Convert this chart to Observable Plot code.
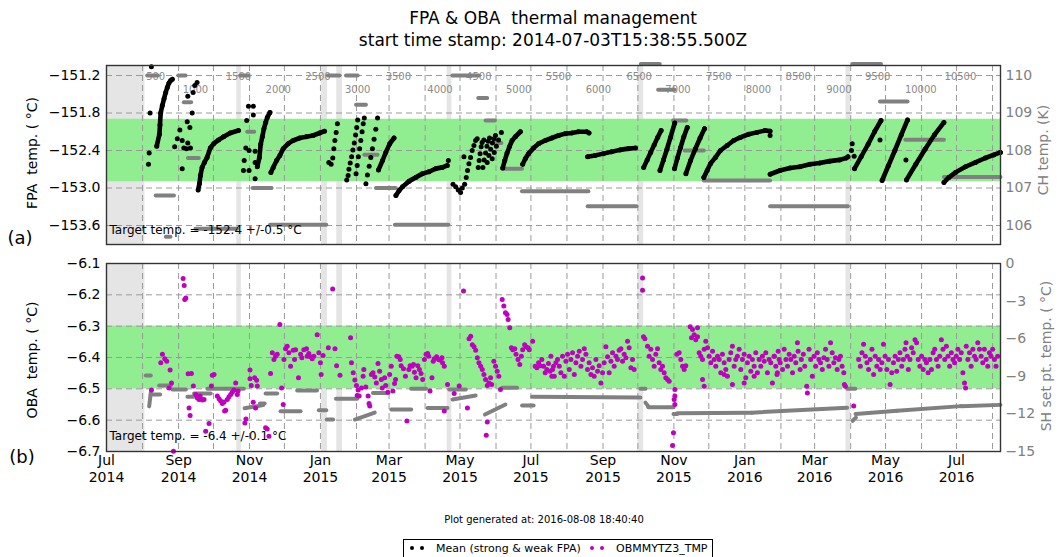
<!DOCTYPE html>
<html><head><meta charset="utf-8">
<script src="https://cdn.jsdelivr.net/npm/d3@7"></script>
<script src="https://cdn.jsdelivr.net/npm/@observablehq/plot@0.6"></script>
<style>
body{margin:0;background:#fff;font-family:"DejaVu Sans",sans-serif}
#wrap{position:relative;width:1064px;height:557px;overflow:hidden;background:#fff}
#wrap svg{position:absolute;left:0;max-width:none}
.t{position:absolute;white-space:pre;color:#000;line-height:1}
</style></head>
<body><div id="wrap"></div>
<script>
// ---------- DATA ----------
// time given as days since 2014-07-01 (UTC)
const shadeStart = ["2014-07-01","2014-10-21","2015-01-02","2015-01-15","2015-04-20","2015-10-01","2016-03-28"];
const shadeEnd   = ["2014-08-03","2014-10-25","2015-01-07","2015-01-20","2015-04-24","2015-10-06","2016-04-01"];

const sampleDays   = [42.3,76.5,113.5,147.7,181.8,216,251,286.8,320.2,354.5,388.7,423,458.1,491.5,526.5,560.7,594.9,629.9,663.2,700.3,734.4];
const sampleLabels = ["500","1000","1500","2000","2500","3000","3500","4000","4500","5000","5500","6000","6500","7000","7500","8000","8500","9000","9500","10000","10500"];

const fpaTicks = [-151.2,-151.8,-152.4,-153.0,-153.6];
const chTicks  = [106,107,108,109,110];
const obaTicks = [-6.1,-6.2,-6.3,-6.4,-6.5,-6.6,-6.7];
const shTicks  = [0,-3,-6,-9,-12,-15];

// FPA mean temperature: isolated samples [day, degC]
const fpaScatter = [
 [38.6,-151.06],[37.5,-151.80],[36.7,-152.44],[36.1,-152.62],
 [58.6,-152.34],[60.9,-152.21],[63.1,-152.07],[65.1,-152.24],[66.5,-152.36],[65.1,-152.69],[68.8,-152.37],[69.9,-152.28],
 [69.4,-151.94],[71.7,-152.03],[73.7,-151.80],[69.9,-151.53],[74.5,-151.47],[75.9,-151.36],[77.9,-151.31],[72.2,-152.36],
 [117.8,-152.72],[118.4,-152.56],[119.8,-152.36],[120.6,-151.92],[122.1,-151.69],[126.3,-151.69],[126.3,-151.83],
 [122.6,-152.40],[122.6,-152.72],[127.8,-152.41],[127.8,-152.59],[127.8,-152.85],
 [191.2,-152.59],[193.2,-152.62],[194.6,-152.52],[195.5,-152.37],[196.4,-152.24],[197.5,-152.11],[198.6,-151.97],
 [206.6,-152.87],[207.8,-152.80],[208.5,-152.70],[209.6,-152.60],[210.8,-152.50],[211.9,-152.39],[213.1,-152.28],[214.2,-152.15],[215.2,-152.03],[216.0,-151.91],
 [214.6,-152.77],[215.6,-152.64],[216.6,-152.50],[217.7,-152.37],[218.7,-152.24],[219.8,-152.10],[220.8,-151.97],[221.7,-151.88],
 [223.1,-152.93],[224.4,-152.79],[225.9,-152.65],[227.3,-152.51],[228.7,-152.37],[230.1,-152.22],[231.6,-152.06],[233.1,-151.88],
 [294.0,-152.56],
 [298.0,-152.94],[300.3,-152.98],[302.5,-153.03],[304.5,-153.07],[306.0,-153.00],[308.0,-152.94],[307.4,-152.50],[309.4,-152.83],
 [310.5,-152.72],[311.7,-152.61],[313.1,-152.51],[314.5,-152.40],[316.0,-152.32],[317.4,-152.24],[318.8,-152.21],
 [319.7,-152.67],[320.5,-152.56],[321.3,-152.45],[322.2,-152.34],[323.0,-152.27],[324.5,-152.23],
 [323.7,-152.67],[324.8,-152.55],[326.0,-152.44],[327.2,-152.33],[328.3,-152.25],[329.4,-152.20],
 [327.4,-152.59],[328.9,-152.48],[330.4,-152.38],[331.9,-152.28],[333.3,-152.21],[334.5,-152.16],
 [331.7,-152.53],[333.5,-152.43],[335.3,-152.33],[337.2,-152.23],[339.6,-152.11],
 [570.7,-152.16],
 [641.3,-152.29],[640.7,-152.40],[643.0,-152.49],[665.2,-152.23],[687.5,-152.55]
];
// FPA mean temperature: densely sampled runs [day, degC]
const fpaRuns = [
 [[43.2,-152.33],[45.5,-152.14],[46.0,-151.99],[46.6,-151.80],[48.0,-151.68],[49.5,-151.57],[50.9,-151.47],[52.3,-151.39],[53.7,-151.32],[55.2,-151.28],[56.6,-151.26]],
 [[78.8,-153.03],[79.9,-152.93],[80.8,-152.80],[82.2,-152.67],[84.2,-152.59],[86.5,-152.51],[89.3,-152.36],[92.2,-152.29],[96.4,-152.23],[100.7,-152.18],[106.4,-152.12],[113.5,-152.08]],
 [[129.7,-152.66],[131.5,-152.51],[132.6,-152.30],[134.0,-152.18],[135.4,-152.05],[136.9,-151.95],[138.3,-151.87],[140.6,-151.79]],
 [[141.4,-152.75],[143.4,-152.67],[146.3,-152.56],[149.1,-152.48],[152.0,-152.37],[156.2,-152.29],[160.5,-152.24],[166.2,-152.20],[171.9,-152.18],[177.6,-152.16],[183.3,-152.12],[187.5,-152.09]],
 [[233.9,-152.71],[237.4,-152.56],[240.2,-152.43],[243.6,-152.29],[247.3,-152.20]],
 [[248.9,-153.12],[251.7,-153.04],[254.6,-152.98],[260.3,-152.89],[266.0,-152.83],[271.7,-152.77],[277.4,-152.74],[283.1,-152.69],[288.8,-152.67],[293.1,-152.64]],
 [[340.8,-152.68],[342.5,-152.56],[344.5,-152.44],[346.5,-152.34],[348.8,-152.24],[351.6,-152.18],[355.9,-152.10]],
 [[357.9,-152.62],[360.2,-152.53],[363.0,-152.45],[367.3,-152.36],[371.6,-152.29],[377.3,-152.24],[383.0,-152.20],[388.7,-152.16],[394.4,-152.13],[400.1,-152.12],[405.9,-152.10],[413.0,-152.10],[415.0,-152.12]],
 [[413.8,-152.50],[420.1,-152.48],[427.3,-152.45],[434.4,-152.42],[441.5,-152.39],[448.7,-152.37],[455.0,-152.36]],
 [[462.0,-152.67],[465.0,-152.55],[468.0,-152.43],[471.0,-152.31],[474.0,-152.19],[477.0,-152.08]],
 [[476.0,-152.72],[479.0,-152.55],[482.0,-152.38],[485.0,-152.19],[488.7,-151.96]],
 [[488.5,-152.69],[491.0,-152.52],[493.7,-152.35],[496.5,-152.18],[499.5,-152.03]],
 [[498.3,-152.77],[502.3,-152.56],[506.5,-152.37],[510.5,-152.20],[514.3,-152.05]],
 [[513.7,-152.83],[516.6,-152.72],[519.4,-152.61],[523.7,-152.51],[528.0,-152.40],[533.7,-152.32],[539.4,-152.24],[545.1,-152.19],[552.2,-152.14],[559.3,-152.11],[566.4,-152.08],[570.7,-152.09]],
 [[570.7,-152.78],[579.2,-152.72],[587.8,-152.68],[596.3,-152.66],[604.9,-152.62],[613.4,-152.60],[621.9,-152.57],[630.5,-152.55],[636.2,-152.52],[637.6,-152.50]],
 [[643.3,-152.69],[649.0,-152.50],[655.0,-152.30],[660.5,-152.10],[666.1,-151.92]],
 [[667.0,-152.88],[672.5,-152.64],[678.0,-152.40],[683.5,-152.15],[688.9,-151.91]],
 [[688.0,-152.87],[696.0,-152.62],[704.0,-152.38],[712.0,-152.15],[720.2,-151.95]],
 [[720.2,-152.91],[724.5,-152.83],[730.2,-152.75],[738.7,-152.66],[747.3,-152.59],[755.8,-152.52],[762.9,-152.47],[768.8,-152.43]]
];

// CH temperature steps (K): [startDay, endDay, K]
const chSteps = [
 [35,44,110.0],[61.7,68,110.0],[42.3,58,106.8],[51,55,105.7],[66.5,72.8,109.29],[70,79.4,107.8],[76.5,112.1,105.91],
 [115,122,110.0],[121,127,108.5],[125.8,142.0,107.0],[140.6,189,106.02],[190.4,200.4,110.0],[206,216,110.0],
 [214.6,223.1,109.22],[221.7,233.1,107.89],[231.7,248.7,107.0],[248,294,106.02],[297.4,320.2,110.0],[319.7,327.4,109.4],
 [326,334,108.8],[334.5,339.6,108.2],[340.2,357.3,107.51],[357.3,414.4,106.91],[413.8,455.8,106.51],[459.5,475.8,110.31],
 [474.4,488.6,109.62],[487.2,498.6,108.8],[497.2,513.7,108.0],[513.7,570.7,107.2],[570.7,637.6,106.51],[641.3,666.1,110.31],
 [665.2,688.9,109.31],[686.9,720.2,108.29],[720.2,768.8,107.29]
];

// SH set point (degC): [startDay, endDay, startValue, endValue]
const shSteps = [
 [33.8,38.1,-8.93,-8.93],[36.7,38.1,-11.4,-10.3],[38.1,46.1,-10.45,-10.45],[45.3,55.3,-9.73,-9.73],[56.7,68.2,-10.05,-10.05],
 [69.6,75.3,-10.64,-10.64],[75.3,89.6,-10.37,-10.37],[86.7,118.2,-10.0,-10.0],[118.8,134.8,-11.55,-11.3],[132,136,-11.17,-11.17],
 [136.8,146.8,-10.37,-10.37],[149.7,166.9,-11.78,-11.78],[164,181,-10.13,-10.13],[182.6,189,-11.7,-11.7],[189.4,194.9,-12.45,-12.45],
 [197.3,215.6,-10.8,-10.8],[213.6,230.7,-12.45,-11.9],[229.2,242,-10.33,-10.33],[244.9,262,-11.65,-11.65],[262,274.8,-10.0,-10.0],
 [276.2,293.3,-11.52,-11.52],[294.7,309,-10.05,-10.05],[297.6,317.5,-10.85,-10.53],[325.5,343.1,-12.05,-11.25],[340.3,353.1,-9.92,-9.92],
 [357.4,367.3,-11.33,-11.33],[366,459.2,-10.64,-10.7],[459.2,463.5,-10.0,-10.0],[463.5,466,-11.1,-11.4],[466,487.6,-11.47,-11.47],
 [487.6,490.8,-12.0,-12.0],[490.8,555,-11.95,-11.9],[555,637,-11.9,-11.5],[637,644,-10.0,-10.0],[641.7,644.5,-12.55,-12.3],
 [644.2,680,-12.0,-11.75],[680,735,-11.75,-11.38],[735,768.8,-11.38,-11.28]
];

// OBA temperature OBMMYTZ3_TMP [day, degC]
const obaPoints = [
 [38.7,-6.504],[48.1,-6.390],[50.1,-6.404],[46.7,-6.417],[51.8,-6.412],[54.7,-6.440],[55.9,-6.481],[53.8,-6.497],[65.9,-6.148],[66.8,-6.170],
 [68.2,-6.210],[67.3,-6.215],[70.2,-6.452],[73.0,-6.451],[74.7,-6.491],[71.0,-6.561],[71.9,-6.585],[76.7,-6.518],[78.2,-6.529],[79.6,-6.534],
 [81.0,-6.532],[82.5,-6.536],[80.5,-6.523],[83.9,-6.534],[88.2,-6.611],[85.3,-6.635],[91.0,-6.457],[92.5,-6.454],[90.2,-6.491],[95.3,-6.523],
 [96.8,-6.532],[98.2,-6.539],[99.6,-6.547],[101.1,-6.542],[102.5,-6.568],[103.9,-6.534],[105.3,-6.525],[106.8,-6.518],[108.2,-6.511],[109.6,-6.504],
 [111.1,-6.481],[112.5,-6.518],[113.1,-6.507],[101.6,-6.571],[57.6,-6.699],[123.4,-6.440],[123.4,-6.468],[124.5,-6.489],[127.4,-6.465],[129.1,-6.473],
 [129.7,-6.491],[126.2,-6.543],[128.2,-6.561],[119.0,-6.609],[119.9,-6.596],[136.8,-6.624],[138.2,-6.628],[139.7,-6.651],[141.1,-6.451],[144.0,-6.406],
 [145.4,-6.396],[146.8,-6.390],[142.6,-6.385],[149.1,-6.295],[150.6,-6.497],[152.0,-6.550],[152.6,-6.406],[154.0,-6.372],[155.4,-6.364],[156.8,-6.385],
 [158.3,-6.428],[160.6,-6.377],[162.6,-6.375],[161.7,-6.406],[165.1,-6.465],[166.9,-6.390],[168.0,-6.401],[169.7,-6.375],[172.0,-6.372],[172.6,-6.396],
 [174.0,-6.387],[175.4,-6.398],[176.9,-6.404],[178.3,-6.396],[181.2,-6.327],[182.6,-6.385],[184.0,-6.417],[184.6,-6.454],[186.3,-6.394],
 [194.5,-6.181],[190.8,-6.369],[196.5,-6.372],[209.9,-6.337],[197.9,-6.426],[200.8,-6.457],[210.7,-6.417],[212.2,-6.449],[213.6,-6.472],[215.0,-6.489],
 [216.4,-6.504],[215.6,-6.521],[217.3,-6.523],[219.3,-6.497],[220.7,-6.460],[221.3,-6.438],[223.0,-6.494],[225.0,-6.523],[225.8,-6.547],[226.4,-6.555],
 [227.8,-6.454],[229.2,-6.449],[230.7,-6.462],[232.1,-6.481],[233.5,-6.419],[234.9,-6.444],[236.4,-6.470],[237.2,-6.497],[239.2,-6.465],[240.1,-6.489],
 [242.0,-6.511],[243.5,-6.454],[244.9,-6.428],[246.3,-6.507],[247.7,-6.483],[248.6,-6.470],[249.7,-6.396],[251.4,-6.398],[252.6,-6.406],[253.4,-6.426],
 [255.4,-6.436],[257.1,-6.460],[258.3,-6.603],[260.0,-6.438],[261.1,-6.426],[262.8,-6.428],[264.0,-6.422],[264.8,-6.447],[266.2,-6.465],[267.7,-6.426],
 [269.1,-6.438],[270.5,-6.451],[271.9,-6.470],[273.4,-6.406],[274.8,-6.390],[276.2,-6.387],[277.1,-6.396],[278.2,-6.507],[279.9,-6.465],[281.0,-6.412],
 [281.9,-6.404],[283.9,-6.398],[285.6,-6.406],[286.7,-6.408],[288.5,-6.401],[289.0,-6.417],[290.5,-6.428],[290.5,-6.571],[293.3,-6.486],[299.0,-6.515],
 [303.3,-6.491],[307.0,-6.188],[310.4,-6.561],[311.8,-6.340],[313.2,-6.332],[314.6,-6.359],[316.1,-6.366],[317.5,-6.377],[318.9,-6.401],[320.3,-6.417],
 [321.8,-6.428],[323.2,-6.438],[324.6,-6.454],[326.0,-6.470],[327.5,-6.489],[328.9,-6.481],[330.3,-6.465],[331.2,-6.486],[327.5,-6.606],[326.6,-6.648],
 [333.1,-6.412],[334.6,-6.428],[336.0,-6.444],[337.4,-6.460],[338.8,-6.502],[340.3,-6.215],[341.7,-6.236],[343.1,-6.257],[344.5,-6.263],[345.4,-6.279],
 [346.8,-6.305],[348.2,-6.369],[349.4,-6.375],[351.1,-6.372],[352.2,-6.390],[353.9,-6.406],[355.4,-6.422],[356.8,-6.396],[357.9,-6.375],[359.6,-6.359],
 [360.8,-6.366],[362.5,-6.369],[363.6,-6.375],[366.5,-6.348],[368.7,-6.428],[370.2,-6.433],[371.6,-6.417],[373.0,-6.426],[374.4,-6.406],[375.9,-6.428],
 [377.3,-6.449],[378.7,-6.438],[380.1,-6.419],[381.5,-6.444],[383.0,-6.460],[384.4,-6.428],
 [382.2,-6.396],[383.6,-6.438],[385.1,-6.460],[386.5,-6.417],[387.9,-6.406],[389.4,-6.428],[390.8,-6.449],[392.2,-6.396],[393.7,-6.460],[395.1,-6.412],
 [396.5,-6.390],[398.0,-6.438],[399.4,-6.406],[400.8,-6.385],[402.3,-6.454],[403.7,-6.417],[405.1,-6.396],[406.6,-6.380],[408.0,-6.428],[409.4,-6.406],
 [410.9,-6.372],[412.3,-6.390],[413.7,-6.438],[415.1,-6.417],[416.6,-6.454],[418.0,-6.433],[419.4,-6.460],[420.9,-6.406],[422.3,-6.444],[423.7,-6.426],
 [425.2,-6.481],[426.6,-6.449],[428.0,-6.417],[429.5,-6.366],[430.9,-6.398],[432.3,-6.449],[433.8,-6.412],[435.2,-6.385],[436.6,-6.428],[438.1,-6.396],
 [439.5,-6.406],[440.9,-6.377],[442.4,-6.372],[443.8,-6.412],[445.2,-6.390],[446.7,-6.401],[448.1,-6.348],[449.5,-6.369],[451.0,-6.433],[452.4,-6.406],
 [453.8,-6.438],[461.0,-6.146],[461.0,-6.185],[461.8,-6.334],[463.0,-6.340],[465.3,-6.364],[466.7,-6.396],[468.1,-6.374],[469.6,-6.406],[471.0,-6.428],
 [472.4,-6.390],[473.9,-6.372],[475.3,-6.417],[476.7,-6.438],[478.2,-6.428],[479.6,-6.449],[481.0,-6.465],[482.5,-6.470],[483.9,-6.476],[488.8,-6.502],
 [488.8,-6.523],[488.2,-6.534],[488.8,-6.550],[487.6,-6.640],[486.8,-6.681],[490.5,-6.390],[492.5,-6.385],[493.9,-6.406],[495.4,-6.428],[496.8,-6.438],
 [498.2,-6.426],[502.0,-6.302],[504.0,-6.311],[508.3,-6.305],[503.1,-6.337],[505.4,-6.327],[506.8,-6.343],[508.3,-6.334],[509.7,-6.385],[511.1,-6.396],
 [512.6,-6.406],[514.0,-6.374],[515.4,-6.348],[516.9,-6.369],[518.3,-6.396],[519.7,-6.417],[521.2,-6.380],[522.6,-6.406],[524.0,-6.428],[525.5,-6.396],
 [526.9,-6.406],[528.3,-6.449],[529.7,-6.390],[531.2,-6.417],[532.6,-6.438],[534.0,-6.460],[535.5,-6.406],[536.9,-6.385],[538.3,-6.364],[539.8,-6.428],
 [541.2,-6.406],[542.6,-6.396],[544.1,-6.374],[545.5,-6.438],[546.9,-6.406],[548.4,-6.390],[549.8,-6.465],[551.2,-6.417],[552.7,-6.396],[554.1,-6.444],
 [555.5,-6.406],[557.0,-6.428],[558.4,-6.385],[559.8,-6.449],[561.3,-6.406],[562.7,-6.428],[564.1,-6.396],[565.6,-6.412],[567.0,-6.385],[568.4,-6.449],
 [569.9,-6.406],[571.3,-6.417],[572.7,-6.481],[574.2,-6.396],[575.6,-6.428],[577.0,-6.449],[578.5,-6.406],
 [514.0,-6.492],[512.6,-6.470],[531.2,-6.454],[538.3,-6.486],[548.4,-6.481],[557.0,-6.460],
 [574.3,-6.396],[576.6,-6.454],[577.7,-6.380],[579.4,-6.417],[581.4,-6.438],[582.8,-6.374],[584.3,-6.406],[585.7,-6.428],[587.1,-6.390],[588.5,-6.406],
 [590.0,-6.449],[591.4,-6.396],[592.8,-6.417],[594.2,-6.353],[594.8,-6.380],[596.5,-6.438],[597.6,-6.406],[599.3,-6.390],[600.5,-6.428],[602.2,-6.492],
 [602.8,-6.513],[604.2,-6.374],[605.6,-6.406],[607.0,-6.460],[608.5,-6.396],[609.9,-6.428],[611.3,-6.385],[612.7,-6.406],[614.1,-6.417],[615.6,-6.438],
 [617.0,-6.401],[618.4,-6.374],[619.8,-6.406],[621.3,-6.428],[622.7,-6.353],[624.1,-6.385],[625.5,-6.417],[626.9,-6.401],[628.4,-6.438],[629.8,-6.406],
 [631.2,-6.396],[632.6,-6.428],[634.1,-6.449],[634.6,-6.486],[635.5,-6.492],[642.6,-6.555],[646.9,-6.406],[648.3,-6.428],[649.7,-6.385],[651.1,-6.358],
 [652.6,-6.396],[654.0,-6.417],[655.4,-6.438],[656.8,-6.406],[658.3,-6.374],[659.7,-6.454],[661.1,-6.396],[662.5,-6.428],[664.0,-6.406],[665.4,-6.438],
 [666.8,-6.417],[668.2,-6.358],[669.6,-6.396],[671.1,-6.438],[672.5,-6.406],[673.9,-6.486],[675.3,-6.449],[676.8,-6.417],[678.2,-6.396],[679.6,-6.444],
 [681.0,-6.406],[682.4,-6.385],[683.9,-6.428],[685.3,-6.406],[686.7,-6.374],[687.6,-6.353],[688.7,-6.396],[689.6,-6.438],[691.0,-6.406],[692.4,-6.369],
 [693.8,-6.385],[695.3,-6.343],[696.7,-6.353],[698.1,-6.406],[699.5,-6.428],[701.0,-6.396],[702.4,-6.438],[703.8,-6.406],[705.2,-6.417],[706.6,-6.449],
 [708.1,-6.406],[709.5,-6.438],[710.9,-6.385],[712.3,-6.374],[713.8,-6.406],[715.2,-6.428],[716.6,-6.396],[718.0,-6.343],[719.4,-6.374],[720.9,-6.406],
 [722.3,-6.364],[723.7,-6.396],[725.1,-6.428],[726.6,-6.385],[728.0,-6.406],[729.4,-6.417],[730.8,-6.396],[732.2,-6.374],[733.7,-6.406],[735.1,-6.385],
 [736.5,-6.449],[737.9,-6.481],[738.8,-6.497],[739.4,-6.364],[740.8,-6.406],[742.2,-6.385],[743.6,-6.428],[745.1,-6.374],[746.5,-6.396],[747.9,-6.406],
 [749.3,-6.353],[750.8,-6.374],[752.2,-6.396],[753.6,-6.417],[755.0,-6.374],[756.5,-6.406],[757.9,-6.428],[759.3,-6.385],[760.7,-6.396],[762.1,-6.374],
 [763.6,-6.406],[765.0,-6.428],[766.4,-6.396]
];

// ---------- BUILD ----------
const T0 = Date.UTC(2014, 6, 1);
const toDate = d => new Date(T0 + d * 864e5);
const xEnd = toDate(768.85);
const xDomain = [toDate(0), xEnd];
const monthTicks = d3.utcMonth.range(new Date(Date.UTC(2014, 7, 1)), xEnd);
const labelTicks = d3.utcMonth.every(2).range(new Date(Date.UTC(2014, 6, 1)), xEnd);
const shades = shadeStart.map((s, i) => ({x1: new Date(s + "T00:00Z"), x2: new Date(shadeEnd[i] + "T00:00Z")}));
const GRID = {stroke: "#9a9a9a", strokeOpacity: 1, strokeDasharray: "6,4", strokeWidth: 1};
const FONT = "'DejaVu Sans', sans-serif";

const wrap = document.getElementById("wrap");
function layer(top, h, mt, mb, yDomain, marks, xAxis = false) {
  const svg = Plot.plot({
    width: 1064, height: h, marginTop: mt, marginBottom: mb, marginLeft: 106, marginRight: 64,
    style: {background: "none", fontFamily: FONT, fontSize: "14px", overflow: "visible"},
    x: {type: "utc", domain: xDomain, ...(xAxis ? {} : {axis: null})},
    y: {domain: yDomain, axis: null},
    marks
  });
  svg.style.top = top + "px";
  wrap.appendChild(svg);
}

// --- Panel (a) ---
const fpaDomain = [-153.904, -151.04];
const chDomain = [105.493, 110.267];
const sampleData = sampleDays.map((d, i) => ({x: toDate(d), s: sampleLabels[i], row: i % 2}));
layer(0, 260, 65, 16, fpaDomain, [
  Plot.rect(shades, {x1: "x1", x2: "x2", fill: "#e5e5e5"}),
  Plot.rect([{a: -151.9, b: -152.9}], {y1: "a", y2: "b", fill: "#90ee90"}),
  Plot.gridX(monthTicks, GRID),
  Plot.gridY(fpaTicks, GRID),
  Plot.text(sampleData.filter(d => d.row === 0), {x: "x", text: "s", frameAnchor: "top", dy: 7, fill: "#8a8a8a", fontSize: 10}),
  Plot.text(sampleData.filter(d => d.row === 1), {x: "x", text: "s", frameAnchor: "top", dy: 20, fill: "#8a8a8a", fontSize: 10}),
  Plot.axisY(fpaTicks, {tickFormat: d3.format(".1f"), tickSize: 0, tickPadding: 6, label: null, fontSize: 14})
]);
layer(0, 260, 65, 16, chDomain, [
  Plot.link(chSteps, {x1: d => toDate(d[0]), x2: d => toDate(d[1]), y1: d => d[2], y2: d => d[2], stroke: "#808080", strokeWidth: 4, strokeLinecap: "round"}),
  Plot.axisY(chTicks, {anchor: "right", tickSize: 0, tickPadding: 5, label: null, color: "#808080", fontSize: 14})
]);
const runPts = fpaRuns.flatMap((r, i) => r.map(p => ({x: toDate(p[0]), y: p[1], run: i})));
const scatPts = fpaScatter.map(p => ({x: toDate(p[0]), y: p[1]}));
layer(0, 260, 65, 16, fpaDomain, [
  Plot.line(runPts, {x: "x", y: "y", z: "run", stroke: "#000", strokeWidth: 4.6, strokeLinecap: "round", strokeLinejoin: "round"}),
  Plot.dot(runPts.concat(scatPts), {x: "x", y: "y", r: 2.5, fill: "#000", stroke: "none"}),
  Plot.text(["Target temp. = -152.4 +/-0.5 \u00b0C"], {frameAnchor: "bottom-left", dx: 3, dy: -11, fontSize: 12, textAnchor: "start"}),
  Plot.frame({stroke: "#333", strokeWidth: 1.4})
]);

// --- Panel (b) ---
const obaDomain = [-6.7, -6.1];
const shDomain = [-15, 0];
layer(250, 250, 13, 49, obaDomain, [
  Plot.rect(shades, {x1: "x1", x2: "x2", fill: "#e5e5e5"}),
  Plot.rect([{a: -6.3, b: -6.5}], {y1: "a", y2: "b", fill: "#90ee90"}),
  Plot.gridX(monthTicks, GRID),
  Plot.gridY(obaTicks, GRID),
  Plot.axisY(obaTicks, {tickFormat: d3.format(".1f"), tickSize: 0, tickPadding: 6, label: null, fontSize: 14}),
  Plot.axisX(labelTicks, {tickFormat: d3.utcFormat("%b\n%Y"), tickSize: 0, tickPadding: 2, label: null, fontSize: 14, lineHeight: 1.2})
], true);
layer(250, 250, 13, 49, shDomain, [
  Plot.link(shSteps, {x1: d => toDate(d[0]), x2: d => toDate(d[1]), y1: d => d[2], y2: d => d[3], stroke: "#808080", strokeWidth: 4, strokeLinecap: "round"}),
  Plot.axisY(shTicks, {anchor: "right", tickSize: 0, tickPadding: 5, label: null, color: "#808080", fontSize: 14, tickFormat: d3.format("d")})
]);
layer(250, 250, 13, 49, obaDomain, [
  Plot.dot(obaPoints, {x: d => toDate(d[0]), y: d => d[1], r: 2.5, fill: "#bf00bf", stroke: "none"}),
  Plot.text(["Target temp. = -6.4 +/-0.1 \u00b0C"], {frameAnchor: "bottom-left", dx: 3, dy: -12, fontSize: 12, textAnchor: "start"}),
  Plot.frame({stroke: "#333", strokeWidth: 1.4})
]);

// ---------- TEXT ----------
function txt(s, x, y, css = {}) {
  const el = document.createElement("div");
  el.className = "t";
  el.textContent = s;
  el.style.left = x + "px";
  el.style.top = y + "px";
  el.style.transform = (css.rot ? "translate(-50%,-50%) rotate(-90deg)" : "translate(-50%,-50%)");
  Object.assign(el.style, css.style || {});
  wrap.appendChild(el);
  return el;
}
txt("FPA & OBA  thermal management", 553, 18, {style: {fontSize: "17px"}});
txt("start time stamp: 2014-07-03T15:38:55.500Z", 553, 40, {style: {fontSize: "17px"}});
txt("FPA  temp. ( \u00b0C)", 32, 153, {rot: true, style: {fontSize: "14px"}});
txt("OBA  temp. ( \u00b0C)", 32, 360, {rot: true, style: {fontSize: "14px"}});
txt("CH temp. (K)", 1043, 150, {rot: true, style: {fontSize: "14px", color: "#808080"}});
txt("SH set pt. temp. ( \u00b0C)", 1046, 356, {rot: true, style: {fontSize: "14px", color: "#808080"}});
txt("(a)", 20, 238, {style: {fontSize: "18px"}});
txt("(b)", 22, 457, {style: {fontSize: "18px"}});
txt("Plot generated at: 2016-08-08 18:40:40", 544, 520, {style: {fontSize: "10px"}});

// legend
const leg = document.createElement("div");
Object.assign(leg.style, {position: "absolute", left: "403px", top: "539px", width: "308px", height: "18px",
  border: "1px solid #000", background: "#fff", fontSize: "11px", fontFamily: FONT});
wrap.appendChild(leg);
function legItem(x, color, label) {
  [0, 10].forEach(dx => {
    const d = document.createElement("div");
    Object.assign(d.style, {position: "absolute", left: (x + dx - 2) + "px", top: "6px", width: "4px", height: "4px",
      borderRadius: "50%", background: color});
    leg.appendChild(d);
  });
  const t = document.createElement("div");
  t.textContent = label;
  Object.assign(t.style, {position: "absolute", left: (x + 24) + "px", top: "2px", whiteSpace: "pre"});
  leg.appendChild(t);
}
legItem(8, "#000", "Mean (strong & weak FPA)");
legItem(188, "#bf00bf", "OBMMYTZ3_TMP");
</script></body></html>
